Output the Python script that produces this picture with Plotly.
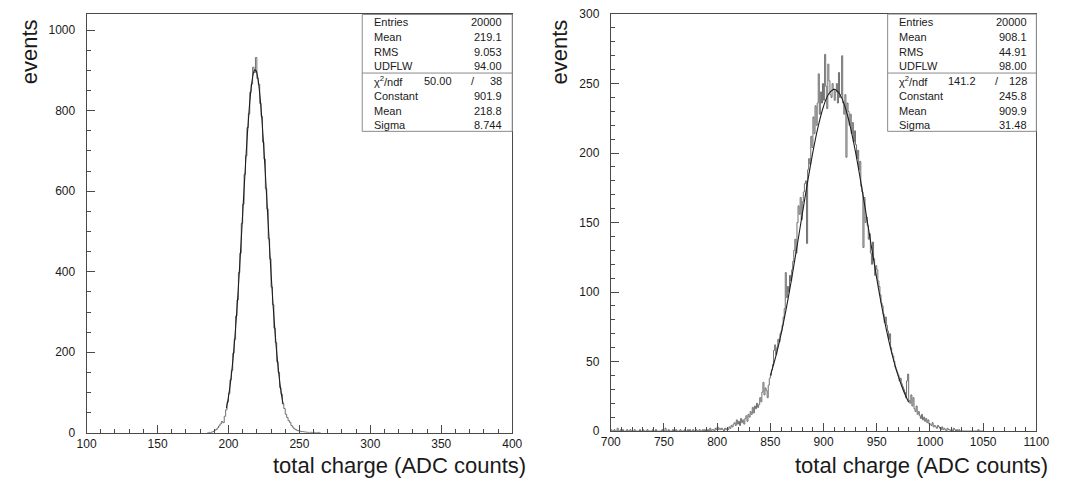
import plotly.graph_objects as go

W, H = 1066, 490

# ---------------- data ----------------
# left histogram: 1-unit bins starting at 185
left_bin_start = 185
left_counts = [0, 1, 0, 2, 3, 6, 8, 12, 17, 22,
               28, 25, 41, 57, 76, 98, 131, 155, 198, 232,
               290, 330, 398, 446, 520, 568, 642, 688, 758, 792,
               846, 866, 908, 895, 932, 880, 866, 818, 786, 722,
               680, 606, 556, 482, 432, 362, 318, 260, 224, 176,
               150, 112, 96, 72, 60, 46, 38, 30, 26, 18,
               14, 10, 8, 6, 5, 4, 3, 3, 2, 2,
               1, 1, 1, 1, 0, 1, 0, 0, 1, 0]

left_fit_x = [198.5, 199.5, 200.5, 201.5, 202.5, 203.5, 204.5, 205.5, 206.5, 207.5,
              208.5, 209.5, 210.5, 211.5, 212.5, 213.5, 214.5, 215.5, 216.5, 217.5,
              218.5, 219.5, 220.5, 221.5, 222.5, 223.5, 224.5, 225.5, 226.5, 227.5,
              228.5, 229.5, 230.5, 231.5, 232.5, 233.5, 234.5, 235.5, 236.5, 237.5, 238.5]
left_fit_y = [60.9, 78.9, 100.9, 127.4, 158.6, 195.1, 236.8, 283.6, 335.3, 391.3,
              450.6, 512.3, 574.8, 636.5, 695.6, 750.6, 799.2, 840.0, 871.2, 892.0,
              901.4, 899.0, 885.0, 859.9, 824.7, 780.6, 729.3, 672.5, 612.0, 549.8,
              487.4, 426.5, 368.4, 314.0, 264.3, 219.5, 179.9, 145.6, 116.2, 91.6, 71.3]

# right histogram: 1-unit bins starting at 700
right_bin_start = 700
right_counts = [
    1, 0, 0, 1, 0, 0, 2, 0, 0, 1,
    0, 1, 0, 0, 0, 1, 0, 0, 1, 0,
    0, 0, 1, 0, 0, 0, 0, 1, 0, 0,
    1, 0, 0, 0, 1, 0, 0, 0, 0, 1,
    0, 0, 1, 0, 0, 0, 0, 0, 1, 0,
    0, 2, 0, 0, 1, 0, 0, 0, 1, 0,
    0, 1, 0, 0, 0, 1, 0, 0, 0, 1,
    0, 0, 1, 0, 1, 0, 0, 1, 0, 0,
    1, 0, 0, 1, 0, 0, 1, 0, 1, 0,
    0, 1, 0, 2, 0, 1, 1, 0, 2, 1,
    3, 1, 2, 1, 2, 1, 0, 2, 1, 2,
    1, 3, 2, 4, 3, 5, 6, 4, 8, 5,
    7, 4, 9, 6, 8, 5, 9, 11, 7, 12,
    10, 14, 12, 17, 13, 18, 16, 20, 17, 19,
    24, 21, 28, 35, 26, 31, 29, 24, 33, 38,
    40, 44, 48, 58, 62, 55, 60, 66, 64, 70,
    72, 76, 82, 88, 114, 96, 104, 100, 112, 108,
    116, 122, 130, 138, 128, 150, 162, 156, 168, 152,
    165, 172, 178, 180, 135, 188, 196, 192, 212, 204,
    226, 214, 234, 220, 236, 257, 228, 244, 236, 250,
    238, 271, 248, 232, 264, 252, 242, 240, 250, 246,
    238, 244, 250, 236, 258, 240, 242, 270, 236, 228,
    242, 197, 236, 230, 220, 228, 214, 222, 208, 216,
    206, 196, 202, 188, 194, 176, 172, 132, 168, 150,
    154, 148, 138, 142, 128, 120, 136, 124, 112, 119,
    116, 108, 104, 98, 92, 90, 84, 78, 82, 76,
    72, 66, 70, 60, 56, 54, 50, 46, 44, 42,
    40, 36, 38, 34, 32, 30, 28, 24, 36, 41,
    22, 20, 26, 18, 24, 16, 14, 18, 12, 14,
    11, 9, 12, 8, 10, 7, 9, 6, 8, 5,
    5, 4, 6, 3, 4, 3, 2, 4, 3, 2,
    1, 3, 1, 2, 1, 0, 2, 1, 1, 0,
    1, 0, 2, 1, 0, 1, 0, 1, 0, 0,
    0, 0, 0, 0, 0, 0, 0, 0, 0, 0,
    0, 0, 0, 0, 0, 1, 0, 0, 0, 0]

right_fit_x = [850, 855, 860, 865, 870, 875, 880, 885, 890, 895, 900, 905, 910,
               915, 920, 925, 930, 935, 940, 945, 950, 955, 960, 965, 970, 975, 980]
right_fit_y = [40.0, 53.4, 69.6, 88.5, 109.7, 132.5, 156.1, 179.3, 200.9, 219.4, 233.7, 242.7, 245.8,
               242.7, 233.7, 219.4, 200.9, 179.3, 156.1, 132.5, 109.7, 88.5, 69.6, 53.4, 40.0, 29.2, 20.7]

left_stats = [("Entries", "20000"), ("Mean", "219.1"), ("RMS", "9.053"), ("UDFLW", "94.00")]
left_fitpars = [("Constant", "901.9"), ("Mean", "218.8"), ("Sigma", "8.744")]
left_chi2 = ("50.00", "38")

right_stats = [("Entries", "20000"), ("Mean", "908.1"), ("RMS", "44.91"), ("UDFLW", "98.00")]
right_fitpars = [("Constant", "245.8"), ("Mean", "909.9"), ("Sigma", "31.48")]
right_chi2 = ("141.2", "128")

x_title = "total charge (ADC counts)"
y_title = "events"

# ---------------- figure ----------------
HIST_COLOR = "#707070"
FIT_COLOR = "#1e1e1e"
AXIS_COLOR = "#4a4a4a"
TXT = "#1a1a1a"
FONT = "Liberation Sans"


def edges(start, counts):
    return [start + i for i in range(len(counts) + 1)]


fig = go.Figure()

lx = edges(left_bin_start, left_counts)
fig.add_trace(go.Scatter(x=lx, y=left_counts + [left_counts[-1]], mode="lines",
                         line=dict(color=HIST_COLOR, width=1, shape="hv"),
                         xaxis="x", yaxis="y", showlegend=False, hoverinfo="skip"))
fig.add_trace(go.Scatter(x=left_fit_x, y=left_fit_y, mode="lines",
                         line=dict(color=FIT_COLOR, width=1.1, shape="spline"),
                         xaxis="x", yaxis="y", showlegend=False))

rx = edges(right_bin_start, right_counts)
fig.add_trace(go.Scatter(x=rx, y=right_counts + [right_counts[-1]], mode="lines",
                         line=dict(color=HIST_COLOR, width=1, shape="hv"),
                         xaxis="x2", yaxis="y2", showlegend=False, hoverinfo="skip"))
fig.add_trace(go.Scatter(x=right_fit_x, y=right_fit_y, mode="lines",
                         line=dict(color=FIT_COLOR, width=1.1, shape="spline"),
                         xaxis="x2", yaxis="y2", showlegend=False))


def px(x):
    return x / W


def py(y):
    return 1 - y / H


def axis(domain, rng, dtick, minor, anchor, standoff):
    return dict(domain=domain, range=rng, dtick=dtick, tick0=0,
                ticks="inside", ticklen=8, tickwidth=1, tickcolor=AXIS_COLOR,
                minor=dict(ticks="inside", ticklen=4, dtick=minor, tick0=0,
                           tickcolor=AXIS_COLOR, tickwidth=1),
                showline=True, linecolor=AXIS_COLOR, linewidth=1, mirror=True,
                showgrid=False, zeroline=False, anchor=anchor,
                ticklabelstandoff=standoff,
                tickfont=dict(family=FONT, size=12, color=TXT))


L_LEFT, L_RIGHT, L_TOP, L_BOT = 78.3, 513.3, 7.7, 438.3
R_LEFT, R_RIGHT, R_TOP, R_BOT = 614.0, 1049.0, 7.3, 436.5

fig.update_layout(
    width=W, height=H, margin=dict(l=0, r=0, t=0, b=0),
    paper_bgcolor="white", plot_bgcolor="white",
    xaxis=axis([px(L_LEFT), px(L_RIGHT)], [100, 400], 50, 10, "y", 0),
    yaxis=axis([py(L_BOT), py(L_TOP)], [0, 1039], 200, 50, "x", 8),
    xaxis2=axis([px(R_LEFT), px(R_RIGHT)], [700, 1100], 50, 10, "y2", 0),
    yaxis2=axis([py(R_BOT), py(R_TOP)], [0, 300], 50, 10, "x2", 8),
)

annotations = []
shapes = []


def note(x, y, text, anchor, size=11, angle=0, pad=1):
    annotations.append(dict(x=x, y=y, xref="paper", yref="paper", text=text,
                            showarrow=False, xanchor=anchor, yanchor="middle",
                            textangle=angle, borderpad=pad,
                            font=dict(family=FONT, size=size, color=TXT)))


def stats_box(box_left, box_right, box_top, stats, chi2, fitpars):
    row0, dy = 15.7, 15.17
    sep_y, box_bot = 68.0, 128.0
    shapes.append(dict(type="rect", xref="paper", yref="paper",
                       x0=px(box_left), x1=px(box_right), y0=py(box_bot), y1=py(box_top),
                       line=dict(color="#8a8a8a", width=1), fillcolor="white", layer="above"))
    shapes.append(dict(type="line", xref="paper", yref="paper",
                       x0=px(box_left), x1=px(box_right), y0=py(sep_y), y1=py(sep_y),
                       line=dict(color="#8a8a8a", width=1), layer="above"))
    tl = box_left + 10
    tr = box_right - 8
    rows = list(stats) + [None] + list(fitpars)
    for i, r in enumerate(rows):
        y = py(row0 + dy * i)
        if r is None:
            note(px(tl), y, "χ<sup>2</sup>/ndf", "left")
            note(px(box_right - 76), y, chi2[0], "center")
            note(px(box_right - 40), y, "/", "center")
            note(px(tr), y, chi2[1], "right")
            continue
        note(px(tl), y, r[0], "left")
        note(px(tr), y, r[1], "right")


stats_box(360, L_RIGHT, L_TOP, left_stats, left_chi2, left_fitpars)
stats_box(897, R_RIGHT, R_TOP, right_stats, right_chi2, right_fitpars)

for xc in (20, 562):
    note(px(xc), py(46), y_title, "center", size=22, angle=-90, pad=0)
for xr in (528, 1062):
    note(px(xr), py(472), x_title, "right", size=22, pad=0)

fig.update_layout(annotations=annotations, shapes=shapes)
fig.write_html("out.html")
